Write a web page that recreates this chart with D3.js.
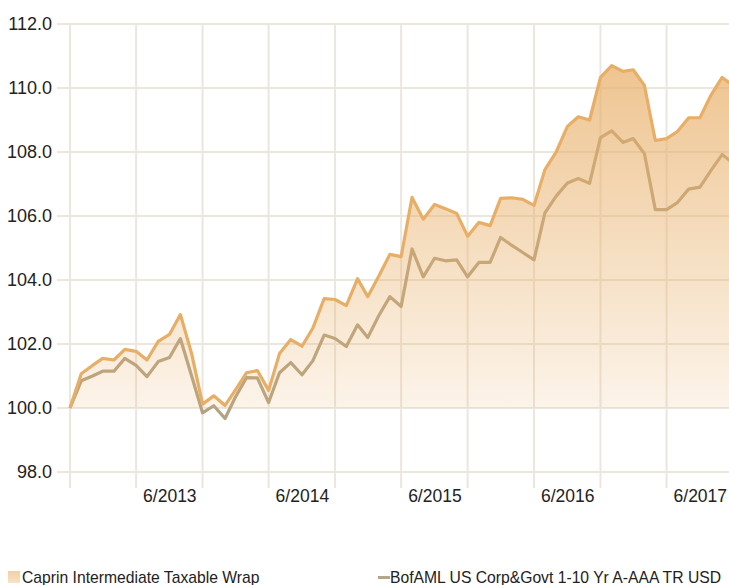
<!DOCTYPE html>
<html>
<head>
<meta charset="utf-8">
<script src="https://cdn.jsdelivr.net/npm/d3@7"></script>
<style>
  body { margin: 0; background: #fff; }
  svg { display: block; font-family: "Liberation Sans", Arial, sans-serif; }
</style>
</head>
<body>
<svg id="chart"></svg>
<script>
// monthly growth of 100, 12/2012 .. 12/2017
const startMonth = new Date(2012, 11, 1);
const fundValues = [
    100.0, 101.07, 101.33, 101.55, 101.5, 101.83, 101.77, 101.5, 102.08, 102.3,
    102.92, 101.7, 100.12, 100.38, 100.08, 100.55, 101.1, 101.17, 100.55, 101.7,
    102.14, 101.93, 102.5, 103.42, 103.39, 103.2, 104.04, 103.48, 104.13, 104.8,
    104.73, 106.58, 105.9, 106.36, 106.23, 106.08, 105.37, 105.8, 105.7, 106.55,
    106.57, 106.52, 106.33, 107.45, 108.0, 108.8, 109.1, 109.0, 110.33, 110.7,
    110.52, 110.57, 110.08, 108.36, 108.42, 108.64, 109.07, 109.07, 109.77, 110.33,
    110.08
];
const indexValues = [
    100.0, 100.85, 101.0, 101.15, 101.15, 101.55, 101.33, 100.98, 101.45, 101.58,
    102.17, 101.0, 99.85, 100.07, 99.67, 100.33, 100.95, 100.94, 100.17, 101.1,
    101.42, 101.04, 101.48, 102.28, 102.17, 101.92, 102.6, 102.2, 102.9, 103.48,
    103.17, 104.97, 104.1, 104.68, 104.6, 104.63, 104.1, 104.55, 104.55, 105.33,
    105.08, 104.86, 104.63, 106.1, 106.62, 107.03, 107.17, 107.02, 108.45, 108.66,
    108.3, 108.42, 107.95, 106.2, 106.2, 106.42, 106.84, 106.9, 107.42, 107.92,
    107.65
];
const yTicks = [98, 100, 102, 104, 106, 108, 110, 112];
const seriesNames = ['Caprin Intermediate Taxable Wrap', 'BofAML US Corp&Govt 1-10 Yr A-AAA TR USD'];

const svgWidth = 729;
const svgHeight = 585;

const months = fundValues.map((d, i) => d3.timeMonth.offset(startMonth, i));
const fund = months.map((m, i) => ({ date: m, value: fundValues[i] }));
const bench = months.map((m, i) => ({ date: m, value: indexValues[i] }));

const x = d3.scaleTime()
    .domain([months[0], months[months.length - 1]])
    .range([70, 733]);

const y = d3.scaleLinear()
    .domain([98, 112])
    .range([472, 24]);

const svg = d3.select('#chart')
    .attr('width', svgWidth)
    .attr('height', svgHeight);

const defs = svg.append('defs');
const grad = defs.append('linearGradient')
    .attr('id', 'fundFill')
    .attr('gradientUnits', 'userSpaceOnUse')
    .attr('x1', 0).attr('x2', 0)
    .attr('y1', y(110.7)).attr('y2', y(100));
grad.append('stop').attr('offset', '0%').attr('stop-color', '#e8ae66').attr('stop-opacity', 0.72);
grad.append('stop').attr('offset', '100%').attr('stop-color', '#e8ae66').attr('stop-opacity', 0.14);

const legGrad = defs.append('linearGradient')
    .attr('id', 'legFill')
    .attr('x1', 0).attr('x2', 0).attr('y1', 0).attr('y2', 1);
legGrad.append('stop').attr('offset', '0%').attr('stop-color', '#f3cfa3');
legGrad.append('stop').attr('offset', '100%').attr('stop-color', '#f8e2c8');

// horizontal grid + y labels
svg.append('g')
    .selectAll('line')
    .data(yTicks)
    .enter().append('line')
    .attr('x1', 57)
    .attr('x2', svgWidth)
    .attr('y1', d => y(d))
    .attr('y2', d => y(d))
    .attr('stroke', '#ebe7de')
    .attr('stroke-width', 2);

svg.append('g')
    .selectAll('text')
    .data(yTicks)
    .enter().append('text')
    .attr('x', 52)
    .attr('y', d => y(d))
    .attr('dy', '0.36em')
    .attr('text-anchor', 'end')
    .attr('fill', '#222')
    .attr('font-size', '18px')
    .text(d => d.toFixed(1));

// vertical grid every 6 months (Dec / Jun)
const halfYears = months.filter((d, i) => i % 6 === 0);
svg.append('g')
    .selectAll('line')
    .data(halfYears)
    .enter().append('line')
    .attr('x1', d => x(d))
    .attr('x2', d => x(d))
    .attr('y1', y(112))
    .attr('y2', 488)
    .attr('stroke', '#ebe7de')
    .attr('stroke-width', 2);

svg.append('g')
    .selectAll('text')
    .data(halfYears.filter(d => d.getMonth() === 5))
    .enter().append('text')
    .attr('x', d => x(d) + 7)
    .attr('y', 502)
    .attr('fill', '#222')
    .attr('font-size', '17.5px')
    .text(d => (d.getMonth() + 1) + '/' + d.getFullYear());

// series
const area = d3.area()
    .x(d => x(d.date))
    .y0(y(100))
    .y1(d => y(d.value));

const line = d3.line()
    .x(d => x(d.date))
    .y(d => y(d.value));

svg.append('path')
    .datum(bench)
    .attr('d', line)
    .attr('fill', 'none')
    .attr('stroke', '#b3a283')
    .attr('stroke-width', 3.2)
    .attr('stroke-linejoin', 'round');

svg.append('path')
    .datum(fund)
    .attr('d', area)
    .attr('fill', 'url(#fundFill)');

svg.append('path')
    .datum(fund)
    .attr('d', line)
    .attr('fill', 'none')
    .attr('stroke', '#e8ae66')
    .attr('stroke-width', 3.2)
    .attr('stroke-linejoin', 'round');

// legend
const legend = svg.append('g');

legend.append('rect')
    .attr('x', 8)
    .attr('y', 571)
    .attr('width', 12)
    .attr('height', 12)
    .attr('fill', 'url(#legFill)');

legend.append('text')
    .attr('x', 22)
    .attr('y', 583)
    .attr('fill', '#222')
    .attr('font-size', '15.7px')
    .text(seriesNames[0]);

legend.append('line')
    .attr('x1', 378)
    .attr('x2', 390)
    .attr('y1', 577.5)
    .attr('y2', 577.5)
    .attr('stroke', '#b3a68a')
    .attr('stroke-width', 3);

legend.append('text')
    .attr('x', 390)
    .attr('y', 583)
    .attr('fill', '#222')
    .attr('font-size', '15.7px')
    .text(seriesNames[1]);
</script>
</body>
</html>
